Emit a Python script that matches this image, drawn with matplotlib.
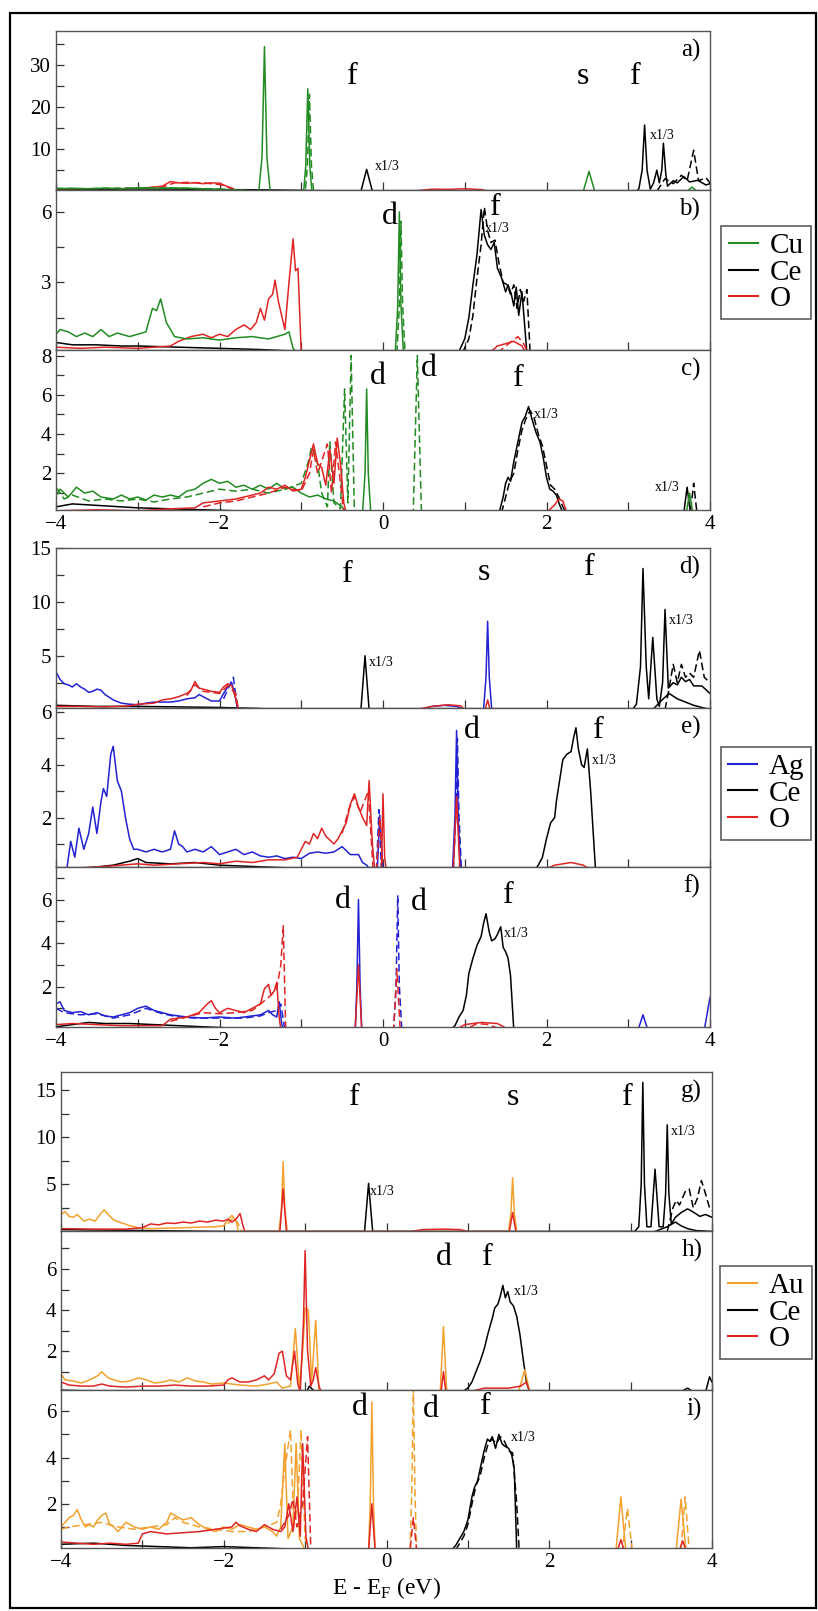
import matplotlib
matplotlib.use("Agg")
import matplotlib.pyplot as plt
from matplotlib.lines import Line2D
from matplotlib.patches import Rectangle
from matplotlib.ticker import MultipleLocator

plt.rcParams['font.family'] = 'serif'
plt.rcParams['font.serif'] = ['Liberation Serif', 'DejaVu Serif']
plt.rcParams['mathtext.fontset'] = 'custom'
plt.rcParams['mathtext.rm'] = 'Liberation Serif'

# ---- data: (E, DOS) points ----
# panel a (Cu)
a_cu = [(-4,0.6),(-3.8,0.7),(-3.6,0.6),(-3.4,0.75),(-3.2,0.6),(-3.0,0.8),(-2.8,0.7),(-2.6,0.8),(-2.4,0.75),
        (-2.2,0.55),(-2.0,0.45),(-1.85,0.35),(-1.7,0.2),(-1.52,0),(-1.48,8),(-1.45,34.3),(-1.42,8),(-1.38,0),
        (-0.97,0),(-0.945,6),(-0.92,24.3),(-0.895,6),(-0.87,0),(2.45,0),(2.52,4.7),(2.59,0),(3.72,0),(3.78,1.0),(3.84,0)]
a_cu_dash = [(-4,0.7),(-3.7,0.6),(-3.3,0.7),(-2.9,0.8),(-2.5,0.7),(-2.1,0.6),(-1.9,0.4),(-1.7,0.2),(-1.5,0),
             (-0.95,0),(-0.925,6),(-0.9,23.0),(-0.875,6),(-0.85,0)]
a_ce = [(-4,0.6),(-3.5,0.5),(-3,0.55),(-2.5,0.5),(-2,0.4),(-1.5,0.35),(-1.0,0.2),(-0.27,0),(-0.2,5.2),(-0.13,0),
        (3.1,0),(3.13,0.6),(3.17,5),(3.2,15.7),(3.23,5),(3.27,0.5),(3.31,2.0),(3.35,5.0),(3.38,2.0),(3.41,5),
        (3.43,11.4),(3.46,4),(3.48,1.2),(3.55,2.5),(3.6,2.0),(3.68,3.5),(3.75,2.2),(3.85,2.6),(3.95,1.5),(4,1.8)]
a_ce_dash = [(3.35,0),(3.45,3.0),(3.55,1.8),(3.65,3.8),(3.72,2.5),(3.8,9.7),(3.86,2.5),(3.95,3.2),(4,2.0)]
a_o = [(-4,0.6),(-3.6,0.5),(-3.2,0.6),(-2.9,0.8),(-2.7,1.2),(-2.6,2.3),(-2.5,2.0),(-2.4,1.9),(-2.3,2.0),
       (-2.2,1.8),(-2.1,2.0),(-2.0,1.9),(-1.9,1.1),(-1.8,0),(0.35,0),(0.6,0.5),(0.8,0.45),(1.0,0.6),(1.2,0.4),(1.3,0)]
a_o_dash = [(-4,0.5),(-3.5,0.6),(-3.0,0.7),(-2.7,1.0),(-2.55,2.0),(-2.4,2.1),(-2.2,2.0),(-2.0,1.6),(-1.85,0.8),(-1.78,0)]

# panel b (Cu)
b_cu = [(-4,0.8),(-3.95,1.0),(-3.85,0.9),(-3.75,0.7),(-3.65,0.85),(-3.55,0.7),(-3.45,1.0),(-3.35,0.7),(-3.25,0.85),
        (-3.1,0.7),(-3.0,0.8),(-2.9,0.9),(-2.82,1.9),(-2.77,1.8),(-2.72,2.3),(-2.65,1.3),(-2.55,0.7),(-2.4,0.6),
        (-2.2,0.65),(-2.0,0.55),(-1.8,0.65),(-1.6,0.7),(-1.4,0.6),(-1.3,0.7),(-1.2,0.8),(-1.15,0.9),(-1.1,0.2),
        (-1.05,0),(0.15,0),(0.18,2.0),(0.2,6.0),(0.22,2.0),(0.25,0)]
b_cu_dash = [(0.17,0),(0.2,2.0),(0.22,5.6),(0.24,2.0),(0.27,0)]
b_ce = [(-4,0.45),(-3.8,0.35),(-3.5,0.35),(-3.2,0.3),(-3,0.3),(-2.5,0.25),(-2,0.2),(-1.5,0.15),(-1.2,0.1),(-1.1,0),
        (0.92,0),(1.0,0.6),(1.05,1.5),(1.1,2.9),(1.15,4.2),(1.2,6.1),(1.24,5.0),(1.28,4.6),(1.32,4.4),(1.36,4.7),
        (1.4,3.6),(1.45,3.2),(1.5,2.6),(1.53,2.9),(1.57,2.5),(1.6,2.0),(1.63,2.8),(1.66,1.6),(1.7,2.6),(1.73,1.3),(1.76,0)]
b_ce_dash = [(0.97,0),(1.05,0.6),(1.1,1.6),(1.15,3.2),(1.2,4.6),(1.24,6.2),(1.28,5.2),(1.32,4.7),(1.37,4.8),
             (1.42,3.8),(1.47,3.0),(1.52,2.9),(1.56,2.5),(1.6,2.9),(1.64,1.9),(1.68,2.7),(1.72,2.2),(1.76,2.7),(1.8,0)]
b_o = [(-4,0.25),(-3.7,0.2),(-3.4,0.25),(-3,0.2),(-2.6,0.3),(-2.5,0.5),(-2.35,0.7),(-2.2,0.8),(-2.1,0.65),(-2,0.8),
       (-1.9,0.7),(-1.8,1.0),(-1.7,1.2),(-1.62,1.0),(-1.55,1.3),(-1.5,1.9),(-1.45,1.4),(-1.4,2.3),(-1.35,2.5),
       (-1.32,3.1),(-1.28,2.2),(-1.2,1.0),(-1.15,3.0),(-1.1,4.85),(-1.07,3.5),(-1.04,3.6),(-1.0,0),(1.3,0),(1.4,0.3),
       (1.5,0.4),(1.6,0.5),(1.7,0.3),(1.75,0)]
b_o_dash = [(1.4,0),(1.5,0.3),(1.65,0.7),(1.72,0.4),(1.78,0)]

# panel c (Cu)
c_cu = [(-4,0.9),(-3.95,1.2),(-3.85,0.8),(-3.75,1.3),(-3.65,1.0),(-3.55,1.1),(-3.45,0.8),(-3.3,0.7),(-3.2,0.9),
        (-3.1,0.7),(-3.0,0.8),(-2.9,0.65),(-2.8,0.9),(-2.7,0.8),(-2.6,0.9),(-2.5,0.8),(-2.4,1.1),(-2.3,1.2),
        (-2.2,1.5),(-2.1,1.7),(-2.0,1.5),(-1.9,1.6),(-1.8,1.3),(-1.7,1.4),(-1.6,1.2),(-1.5,1.4),(-1.4,1.2),
        (-1.3,1.5),(-1.2,1.2),(-1.1,1.3),(-1.0,1.0),(-0.9,0.8),(-0.8,0.9),(-0.7,0.7),(-0.6,0.6),(-0.5,0.3),
        (-0.45,0),(-0.25,0),(-0.22,2.0),(-0.2,6.3),(-0.18,2.0),(-0.15,0),(3.71,0),(3.75,1.0),(3.79,0)]
c_cu_dash = [(-4,1.3),(-3.9,0.7),(-3.8,0.9),(-3.6,0.6),(-3.4,0.7),(-3.2,0.6),(-3.0,0.7),(-2.8,0.55),(-2.6,0.7),
             (-2.4,0.8),(-2.2,1.0),(-2.0,1.2),(-1.8,1.1),(-1.6,1.2),(-1.4,1.0),(-1.2,1.2),(-1.0,1.5),(-0.92,2.5),
             (-0.87,3.4),(-0.8,2.5),(-0.75,1.0),(-0.68,0.3),(-0.65,3.6),(-0.6,0.5),(-0.52,0.2),(-0.47,6.3),
             (-0.43,0.5),(-0.39,8.0),(-0.35,0),(0.37,0),(0.42,8.0),(0.47,0)]
c_o = [(-4,0.1),(-3.5,0.15),(-3.0,0.1),(-2.6,0.2),(-2.3,0.25),(-2.2,0.5),(-2.0,0.6),(-1.8,0.7),(-1.6,0.9),(-1.5,1.0),
       (-1.4,1.3),(-1.3,1.2),(-1.2,1.4),(-1.1,1.1),(-1.0,1.2),(-0.95,1.8),(-0.88,3.0),(-0.85,3.5),(-0.8,2.5),
       (-0.75,2.3),(-0.7,1.4),(-0.65,3.2),(-0.6,1.5),(-0.56,3.8),(-0.52,2.5),(-0.48,0.5),(-0.45,0),(2.0,0),
       (2.1,0.4),(2.15,0.7),(2.2,0.6),(2.25,0)]
c_o_dash = [(-2.2,0.3),(-2.0,0.5),(-1.8,0.6),(-1.6,0.8),(-1.4,1.0),(-1.2,1.3),(-1.0,1.1),(-0.9,2.0),(-0.85,3.2),
            (-0.8,2.0),(-0.68,3.5),(-0.63,1.0),(-0.58,3.6),(-0.52,1.5),(-0.48,0)]
c_ce = [(-4,0.3),(-3.8,0.45),(-3.6,0.4),(-3.4,0.35),(-3.2,0.3),(-3.0,0.25),(-2.6,0.2),(-2.2,0.15),(-1.8,0.1),
        (-1.4,0.1),(-1.2,0),(1.42,0),(1.47,0.8),(1.5,1.5),(1.53,1.8),(1.56,1.6),(1.6,2.6),(1.65,3.6),(1.7,4.6),
        (1.74,4.9),(1.78,5.4),(1.82,4.8),(1.87,4.1),(1.92,3.6),(1.96,2.8),(2.0,1.8),(2.04,1.2),(2.08,1.1),
        (2.12,0.9),(2.16,0.4),(2.2,0),(3.68,0),(3.72,1.3),(3.76,0)]
c_ce_dash = [(1.45,0),(1.5,0.8),(1.55,1.6),(1.6,2.0),(1.65,3.2),(1.7,4.2),(1.75,4.8),(1.8,5.2),(1.85,4.8),(1.9,4.0),
             (1.95,3.4),(2.0,2.4),(2.05,1.4),(2.1,1.2),(2.15,0.8),(2.2,0.3),(2.24,0),(3.76,0),(3.8,1.5),(3.84,0)]

# panel d (Ag)
d_ag = [(-4,3.5),(-3.95,2.8),(-3.9,2.4),(-3.85,2.3),(-3.8,2.1),(-3.75,2.4),(-3.7,2.1),(-3.65,1.9),(-3.6,1.6),
        (-3.55,1.7),(-3.5,1.9),(-3.45,1.8),(-3.4,1.4),(-3.3,0.9),(-3.2,0.6),(-3.1,0.5),(-3.0,0.45),(-2.9,0.6),
        (-2.8,0.7),(-2.6,0.7),(-2.5,0.8),(-2.4,1.0),(-2.3,1.1),(-2.25,1.4),(-2.2,1.2),(-2.1,0.8),(-2.0,0.8),
        (-1.95,1.5),(-1.9,2.1),(-1.85,2.5),(-1.8,1.0),(-1.78,0),(0.45,0),(0.6,0.3),(0.75,0.4),(0.9,0.3),(1.0,0),
        (1.23,0),(1.26,3.0),(1.28,8.2),(1.3,3.0),(1.33,0)]
d_ag_dash = [(-1.95,1.0),(-1.88,2.2),(-1.83,3.0),(-1.78,0)]
d_o = [(-4,0.3),(-3.7,0.3),(-3.4,0.25),(-3.1,0.35),(-3.0,0.5),(-2.8,0.6),(-2.7,0.9),(-2.6,1.0),(-2.5,1.2),
       (-2.4,1.5),(-2.35,1.8),(-2.3,2.6),(-2.25,2.0),(-2.2,1.9),(-2.1,1.7),(-2.0,1.6),(-1.95,2.1),(-1.9,2.4),
       (-1.85,2.2),(-1.8,1.0),(-1.77,0),(0.4,0),(0.6,0.3),(0.8,0.45),(0.95,0.35),(1.0,0),(1.25,0),(1.28,0.9),(1.31,0)]
d_o_dash = [(-2.4,1.3),(-2.3,2.3),(-2.2,1.7),(-2.0,1.5),(-1.9,2.2),(-1.8,1.5),(-1.77,0)]
d_ce = [(-4,0.4),(-3.5,0.3),(-3,0.3),(-2.5,0.25),(-2,0.2),(-1.5,0.1),(-1.3,0),(-0.27,0),(-0.22,5.0),(-0.17,0),
        (3.05,0),(3.1,0.5),(3.15,4.0),(3.18,13.1),(3.22,4.0),(3.25,1.0),(3.3,6.7),(3.35,1.0),(3.38,0.3),(3.42,2.5),
        (3.45,9.3),(3.49,2.0),(3.55,2.5),(3.6,2.3),(3.65,3.0),(3.7,2.6),(3.75,2.8),(3.8,2.2),(3.9,2.2),(4,1.5)]
d_ce_low = [(3.3,0),(3.4,0.8),(3.5,1.5),(3.6,1.0),(3.7,0.7),(3.8,0.4),(3.9,0.2),(4,0)]
d_ce_dash = [(3.45,0),(3.5,2.0),(3.55,4.2),(3.6,2.5),(3.65,4.2),(3.7,3.0),(3.75,3.4),(3.8,3.0),(3.87,5.5),
             (3.93,3.0),(4,2.5)]

# panel e (Ag)
e_ag = [(-3.87,0),(-3.82,1.1),(-3.77,0.5),(-3.72,1.6),(-3.66,0.8),(-3.6,1.4),(-3.55,2.4),(-3.5,1.4),(-3.45,2.6),
        (-3.42,3.1),(-3.38,2.8),(-3.33,4.4),(-3.3,4.7),(-3.25,3.4),(-3.2,3.0),(-3.15,2.0),(-3.1,1.2),(-3.05,0.8),
        (-3.0,0.8),(-2.9,0.7),(-2.8,0.8),(-2.7,0.7),(-2.6,0.8),(-2.55,1.5),(-2.5,1.0),(-2.45,0.9),(-2.4,0.7),
        (-2.3,0.8),(-2.2,0.7),(-2.1,0.9),(-2.0,0.6),(-1.9,0.7),(-1.8,0.8),(-1.7,0.6),(-1.6,0.7),(-1.5,0.55),
        (-1.4,0.5),(-1.3,0.55),(-1.2,0.45),(-1.1,0.5),(-1.0,0.45),(-0.9,0.65),(-0.8,0.7),(-0.7,0.65),(-0.6,0.7),
        (-0.5,0.9),(-0.45,0.75),(-0.4,0.6),(-0.3,0.6),(-0.25,0.3),(-0.2,0.2),(-0.15,0),(-0.07,0),(-0.04,2.1),
        (0.0,0),(0.85,0),(0.88,2.0),(0.9,5.3),(0.92,2.0),(0.95,0)]
e_ag_dash = [(-0.08,0),(-0.05,2.3),(-0.02,0),(0.86,0),(0.89,2.0),(0.91,5.0),(0.93,2.0),(0.96,0)]
e_o = [(-4,0.1),(-3.7,0.1),(-3.4,0.15),(-3.2,0.2),(-3.0,0.25),(-2.8,0.2),(-2.5,0.25),(-2.2,0.3),(-2.0,0.25),
       (-1.8,0.35),(-1.6,0.3),(-1.4,0.4),(-1.2,0.4),(-1.05,0.5),(-1.0,0.8),(-0.95,1.1),(-0.9,1.0),(-0.85,1.4),
       (-0.8,1.2),(-0.75,1.6),(-0.7,1.3),(-0.6,1.0),(-0.55,1.2),(-0.45,1.8),(-0.4,2.5),(-0.35,2.9),(-0.3,2.4),
       (-0.25,2.0),(-0.2,1.7),(-0.17,3.4),(-0.13,1.0),(-0.1,0),(-0.02,0),(0.0,2.9),(0.02,0.5),(0.04,0),
       (0.86,0),(0.9,2.8),(0.94,0),(1.95,0),(2.1,0.2),(2.3,0.3),(2.45,0.2),(2.55,0)]
e_o_dash = [(-0.5,1.4),(-0.42,2.3),(-0.35,2.8),(-0.28,2.2),(-0.18,3.0),(-0.12,0),(-0.08,0),(-0.04,2.0),(0.0,0)]
e_ce = [(-4,0.05),(-3.6,0.1),(-3.3,0.2),(-3.1,0.35),(-3.0,0.45),(-2.9,0.3),(-2.6,0.25),(-2.3,0.3),(-2.0,0.2),
        (-1.6,0.15),(-1.2,0.1),(-0.8,0.05),(-0.6,0),(1.85,0),(1.9,0.2),(1.95,0.5),(2.0,1.2),(2.05,1.8),(2.1,2.0),
        (2.12,2.6),(2.17,3.6),(2.2,4.2),(2.25,4.4),(2.3,4.5),(2.33,5.0),(2.36,5.4),(2.39,4.6),(2.43,4.0),
        (2.46,3.9),(2.5,4.6),(2.54,3.0),(2.58,1.0),(2.6,0)]

# panel f (Ag)
f_ag = [(-4,1.2),(-3.95,1.3),(-3.9,0.9),(-3.8,0.8),(-3.7,0.85),(-3.6,0.7),(-3.5,0.8),(-3.4,0.65),(-3.3,0.6),
        (-3.2,0.7),(-3.1,0.8),(-3.0,1.0),(-2.9,1.1),(-2.8,0.9),(-2.7,0.8),(-2.6,0.7),(-2.5,0.65),(-2.4,0.6),
        (-2.2,0.55),(-2.0,0.6),(-1.8,0.55),(-1.6,0.65),(-1.5,0.7),(-1.45,0.8),(-1.4,0.9),(-1.35,0.7),(-1.3,0.6),
        (-1.27,1.3),(-1.24,0.3),(-1.22,0),(-0.34,0),(-0.32,2.0),(-0.3,6.0),(-0.28,2.0),(-0.26,0),(3.12,0),
        (3.18,0.7),(3.24,0),(3.93,0),(4.0,1.5)]
f_ag_dash = [(-4,1.0),(-3.9,0.8),(-3.7,0.7),(-3.5,0.75),(-3.3,0.55),(-3.1,0.7),(-2.9,1.0),(-2.7,0.75),(-2.5,0.6),
             (-2.3,0.55),(-2.0,0.55),(-1.7,0.55),(-1.5,0.65),(-1.4,0.8),(-1.3,0.9),(-1.25,1.2),(-1.2,0),(0.13,0),
             (0.16,2.0),(0.18,6.2),(0.2,2.0),(0.23,0)]
f_o = [(-4,0.25),(-3.8,0.3),(-3.5,0.25),(-3.2,0.2),(-2.9,0.2),(-2.7,0.2),(-2.6,0.5),(-2.4,0.6),(-2.25,0.8),
       (-2.15,1.2),(-2.1,1.35),(-2.05,1.0),(-2.0,0.8),(-1.9,1.0),(-1.8,0.9),(-1.7,0.8),(-1.6,1.0),(-1.5,1.2),
       (-1.45,1.9),(-1.4,2.1),(-1.37,1.6),(-1.33,1.8),(-1.3,2.2),(-1.27,0.6),(-1.25,0),(-0.34,0),(-0.3,3.0),
       (-0.26,0),(0.88,0),(1.0,0.25),(1.2,0.35),(1.4,0.3),(1.55,0)]
f_o_dash = [(-2.6,0.4),(-2.4,0.6),(-2.2,0.8),(-2.0,0.75),(-1.8,0.8),(-1.6,0.9),(-1.4,1.5),(-1.3,1.9),(-1.25,3.0),
            (-1.22,4.8),(-1.19,0),(0.13,0),(0.17,2.8),(0.21,0),(1.0,0),(1.15,0.3),(1.3,0.25),(1.45,0)]
f_ce = [(-4,0.15),(-3.8,0.25),(-3.6,0.35),(-3.4,0.3),(-3.1,0.3),(-2.8,0.25),(-2.5,0.2),(-2.2,0.15),(-1.9,0.1),
        (-1.5,0.05),(-1.3,0),(0.82,0),(0.88,0.2),(0.93,0.6),(0.98,0.9),(1.02,1.6),(1.05,2.6),(1.1,3.3),(1.15,3.9),
        (1.2,4.3),(1.23,4.9),(1.26,5.35),(1.3,4.5),(1.33,4.1),(1.37,4.2),(1.4,4.4),(1.44,4.75),(1.47,3.8),
        (1.5,3.6),(1.53,3.3),(1.56,2.5),(1.6,0)]

# panel g (Au)
g_au = [(-4,1.8),(-3.95,2.1),(-3.9,1.6),(-3.85,1.5),(-3.8,1.8),(-3.72,1.1),(-3.65,1.3),(-3.58,1.1),(-3.52,1.8),
        (-3.47,2.3),(-3.42,1.8),(-3.35,1.2),(-3.25,0.9),(-3.15,0.6),(-3.05,0.4),(-2.9,0.3),(-2.7,0.35),(-2.5,0.4),
        (-2.3,0.45),(-2.1,0.5),(-2.0,0.6),(-1.95,1.2),(-1.9,1.7),(-1.85,1.2),(-1.82,0),(-1.32,0),(-1.29,2.5),
        (-1.27,7.4),(-1.25,2.5),(-1.22,0),(1.5,0),(1.53,2.0),(1.55,5.7),(1.57,2.0),(1.6,0)]
g_au_dash = [(-1.95,0.8),(-1.88,1.5),(-1.82,0.8),(-1.78,0)]
g_o = [(-4,0.3),(-3.6,0.25),(-3.2,0.25),(-3.0,0.4),(-2.9,0.8),(-2.8,0.7),(-2.7,0.9),(-2.6,0.85),(-2.5,1.0),
       (-2.4,0.9),(-2.3,1.1),(-2.2,1.0),(-2.1,1.2),(-2.0,1.1),(-1.95,1.3),(-1.9,1.0),(-1.85,1.3),(-1.8,1.9),
       (-1.76,0.5),(-1.74,0),(-1.31,0),(-1.27,4.5),(-1.23,0),(0.3,0),(0.45,0.2),(0.7,0.25),(0.9,0.2),(1.0,0),
       (1.51,0),(1.55,2.0),(1.59,0)]
g_ce = [(-4,0.2),(-3.5,0.15),(-3,0.1),(-2.5,0.05),(-2,0),(-0.27,0),(-0.22,5.1),(-0.17,0),(3.05,0),(3.1,0.5),
        (3.13,5.0),(3.15,15.8),(3.17,5.0),(3.2,0.5),(3.25,0.5),(3.3,6.6),(3.35,0.5),(3.4,0.5),(3.43,4.0),
        (3.45,11.3),(3.47,4.0),(3.5,0.8),(3.55,1.5),(3.62,2.0),(3.7,2.4),(3.78,2.0),(3.85,1.6),(3.92,1.8),(4,1.5)]
g_ce_low = [(3.3,0),(3.45,0.5),(3.55,1.0),(3.62,0.6),(3.7,0.3),(3.8,0.1),(4,0)]
g_ce_dash = [(3.45,0),(3.52,2.5),(3.56,3.3),(3.6,2.8),(3.67,4.2),(3.72,4.5),(3.77,2.5),(3.82,3.5),(3.87,5.4),
             (3.92,4.0),(3.97,2.5),(4,2.2)]

# panel h (Au)
h_au = [(-4,0.9),(-3.95,0.6),(-3.85,0.55),(-3.75,0.45),(-3.65,0.6),(-3.55,0.8),(-3.5,1.0),(-3.42,0.7),(-3.35,0.6),
        (-3.25,0.5),(-3.15,0.55),(-3.05,0.7),(-2.95,0.6),(-2.85,0.45),(-2.75,0.5),(-2.65,0.6),(-2.55,0.5),
        (-2.45,0.7),(-2.35,0.55),(-2.25,0.5),(-2.15,0.4),(-2.0,0.45),(-1.8,0.35),(-1.6,0.3),(-1.45,0.4),
        (-1.35,0.5),(-1.28,0.2),(-1.18,0.3),(-1.12,3.1),(-1.07,0.2),(-1.03,2.0),(-1.0,4.1),(-0.96,4.0),
        (-0.92,0.5),(-0.87,3.5),(-0.83,0),(0.66,0),(0.7,3.2),(0.74,0),(1.62,0),(1.7,1.1),(1.76,0)]
h_o = [(-4,0.5),(-3.9,0.35),(-3.75,0.3),(-3.6,0.3),(-3.5,0.4),(-3.4,0.3),(-3.2,0.25),(-3.0,0.3),(-2.8,0.3),
       (-2.6,0.35),(-2.4,0.3),(-2.2,0.3),(-2.0,0.35),(-1.95,0.6),(-1.9,0.7),(-1.8,0.5),(-1.7,0.5),(-1.6,0.6),
       (-1.5,0.8),(-1.45,0.6),(-1.38,0.9),(-1.32,1.9),(-1.28,2.0),(-1.23,0.8),(-1.18,0.6),(-1.13,2.0),(-1.09,0.4),
       (-1.06,0),(-1.02,3.5),(-1.0,6.9),(-0.97,2.0),(-0.93,0.3),(-0.9,0.6),(-0.87,1.2),(-0.83,0.3),(-0.8,0),
       (0.67,0),(0.7,1.0),(0.73,0),(1.0,0),(1.2,0.2),(1.5,0.2),(1.65,0.3),(1.72,0.5),(1.76,0)]
h_ce = [(-4,0.1),(-3.5,0.05),(-3,0),(-0.98,0),(-0.95,0.3),(-0.9,0.1),(-0.85,0),(0.92,0),(1.0,0.2),(1.05,0.5),
        (1.1,1.0),(1.15,1.5),(1.2,2.1),(1.25,2.9),(1.3,3.6),(1.33,4.1),(1.37,4.3),(1.4,4.7),(1.43,5.2),
        (1.46,4.6),(1.49,4.9),(1.52,4.4),(1.56,4.2),(1.6,3.7),(1.64,2.8),(1.68,1.6),(1.72,0.5),(1.76,0),
        (3.6,0),(3.7,0.2),(3.78,0),(3.92,0),(3.97,0.75),(4,0.5)]

# panel i (Au)
i_au = [(-4,1.0),(-3.95,1.2),(-3.9,1.4),(-3.85,1.5),(-3.8,1.75),(-3.75,1.3),(-3.7,1.0),(-3.65,1.1),(-3.6,1.0),
        (-3.55,1.3),(-3.5,1.5),(-3.45,1.6),(-3.4,1.1),(-3.35,1.0),(-3.3,0.8),(-3.2,1.2),(-3.1,1.0),(-3.0,0.9),
        (-2.9,1.0),(-2.8,0.9),(-2.7,1.2),(-2.65,1.6),(-2.6,1.5),(-2.5,1.3),(-2.4,1.4),(-2.3,1.1),(-2.2,0.9),
        (-2.1,0.8),(-2.0,1.0),(-1.9,0.9),(-1.8,1.1),(-1.7,1.0),(-1.6,0.9),(-1.5,1.0),(-1.4,0.8),(-1.35,0.6),
        (-1.3,1.0),(-1.25,4.6),(-1.21,0.5),(-1.15,1.0),(-1.11,4.6),(-1.07,0.5),(-1.0,0),(-0.22,0),(-0.2,2.0),
        (-0.18,6.4),(-0.16,2.0),(-0.14,0),(2.82,0),(2.88,2.3),(2.94,0),(3.56,0),(3.62,2.2),(3.68,0)]
i_au_dash = [(-4,0.9),(-3.9,1.0),(-3.7,1.1),(-3.5,1.2),(-3.3,1.0),(-3.1,0.9),(-2.9,1.0),(-2.7,1.1),(-2.6,1.4),
             (-2.5,1.2),(-2.3,1.0),(-2.1,0.9),(-1.9,0.8),(-1.7,0.8),(-1.5,1.0),(-1.35,1.2),(-1.3,2.0),(-1.25,3.5),
             (-1.18,5.2),(-1.14,1.0),(-1.09,2.0),(-1.05,5.2),(-1.0,0.5),(-0.95,0),(0.29,0),(0.31,2.5),(0.33,7.0),
             (0.35,2.5),(0.37,0),(2.9,0),(2.96,1.8),(3.02,0),(3.62,0),(3.67,2.3),(3.72,0)]
i_o = [(-4,0.35),(-3.8,0.3),(-3.6,0.25),(-3.4,0.3),(-3.2,0.25),(-3.05,0.3),(-3.0,0.7),(-2.9,0.8),(-2.7,0.7),
       (-2.5,0.75),(-2.3,0.8),(-2.1,0.9),(-1.9,1.0),(-1.85,1.2),(-1.8,1.05),(-1.7,0.9),(-1.6,0.8),(-1.5,1.1),
       (-1.4,0.9),(-1.3,0.8),(-1.25,1.0),(-1.2,2.0),(-1.15,0.8),(-1.1,2.3),(-1.06,0.6),(-1.03,4.6),(-0.99,0.6),
       (-0.96,0),(-0.22,0),(-0.18,2.0),(-0.14,0),(2.84,0),(2.88,0.45),(2.92,0),(3.6,0),(3.64,0.4),(3.68,0)]
i_o_dash = [(-1.3,0.9),(-1.2,1.5),(-1.15,2.2),(-1.1,1.0),(-1.03,2.0),(-0.97,4.9),(-0.93,0),(0.29,0),(0.33,1.4),(0.37,0)]
i_ce = [(-4,0.25),(-3.6,0.3),(-3.2,0.2),(-2.8,0.15),(-2.4,0.1),(-2.0,0.15),(-1.6,0.1),(-1.2,0.05),(-1.0,0),
        (0.8,0),(0.85,0.2),(0.9,0.5),(0.95,0.8),(1.0,1.3),(1.05,2.3),(1.08,2.7),(1.12,3.0),(1.15,3.5),(1.2,4.3),
        (1.24,4.8),(1.27,4.7),(1.3,4.9),(1.34,4.4),(1.38,5.0),(1.42,4.6),(1.45,4.5),(1.5,4.4),(1.54,4.1),
        (1.57,3.5),(1.6,0)]
i_ce_dash = [(0.85,0),(0.9,0.3),(0.95,0.6),(1.0,1.1),(1.05,2.0),(1.1,2.8),(1.15,3.2),(1.2,4.0),(1.25,4.6),
             (1.3,4.8),(1.35,4.6),(1.4,4.9),(1.45,4.7),(1.5,4.3),(1.55,4.2),(1.6,2.0),(1.63,0)]

# axis limits / ticks per panel
y_limits = {'a': (0.3, 38), 'b': (0.13, 6.93), 'c': (0.14, 8.28), 'd': (0.15, 15.0), 'e': (0.13, 6.15),
            'f': (0.14, 7.5), 'g': (0.05, 16.9), 'h': (0.11, 7.85), 'i': (0.09, 6.92)}
y_major = {'a': 10, 'b': 3, 'c': 2, 'd': 5, 'e': 2, 'f': 2, 'g': 5, 'h': 2, 'i': 2}

# orbital letters: (x, y, text)
letters = {
    'a': [(-0.38, 25.5, 'f'), (2.44, 25.5, 's'), (3.09, 25.5, 'f')],
    'b': [(0.08, 5.5, 'd'), (1.37, 5.85, 'f')],
    'c': [(-0.06, 6.55, 'd'), (0.56, 6.95, 'd'), (1.65, 6.45, 'f')],
    'd': [(-0.43, 11.8, 'f'), (1.24, 12.0, 's'), (2.52, 12.5, 'f')],
    'e': [(1.09, 5.0, 'd'), (2.63, 5.0, 'f')],
    'f': [(-0.49, 5.6, 'd'), (0.44, 5.5, 'd'), (1.53, 5.85, 'f')],
    'g': [(-0.39, 13.4, 'f'), (1.55, 13.4, 's'), (2.96, 13.4, 'f')],
    'h': [(0.71, 6.2, 'd'), (1.24, 6.2, 'f')],
    'i': [(-0.33, 5.85, 'd'), (0.54, 5.75, 'd'), (1.21, 5.9, 'f')],
}
scale_notes = {
    'a': [(-0.1, 5.8), (3.27, 13.3)], 'b': [(1.25, 5.3)], 'c': [(1.85, 5.0), (3.33, 1.3)],
    'd': [(-0.17, 4.4), (3.5, 8.3)], 'e': [(2.56, 4.15)], 'f': [(1.48, 4.45)],
    'g': [(-0.2, 4.2), (3.5, 10.6)], 'h': [(1.57, 4.9)], 'i': [(1.53, 4.85)],
}

green, blue, orange, red = '#228b22', '#2222d4', '#f2a12e', '#e02424'
dash = (0, (5, 2.5))

# curves per panel: (data, colour, dashed)
panels = {
    'a': [(a_o, red, 0), (a_o_dash, red, 1), (a_ce, 'k', 0), (a_ce_dash, 'k', 1), (a_cu, green, 0), (a_cu_dash, green, 1)],
    'b': [(b_ce, 'k', 0), (b_ce_dash, 'k', 1), (b_o, red, 0), (b_o_dash, red, 1), (b_cu, green, 0), (b_cu_dash, green, 1)],
    'c': [(c_ce, 'k', 0), (c_ce_dash, 'k', 1), (c_cu, green, 0), (c_cu_dash, green, 1), (c_o, red, 0), (c_o_dash, red, 1)],
    'd': [(d_ce, 'k', 0), (d_ce_low, 'k', 0), (d_ce_dash, 'k', 1), (d_ag, blue, 0), (d_ag_dash, blue, 1),
          (d_o, red, 0), (d_o_dash, red, 1)],
    'e': [(e_ce, 'k', 0), (e_ag, blue, 0), (e_ag_dash, blue, 1), (e_o, red, 0), (e_o_dash, red, 1)],
    'f': [(f_ce, 'k', 0), (f_ag, blue, 0), (f_ag_dash, blue, 1), (f_o, red, 0), (f_o_dash, red, 1)],
    'g': [(g_ce, 'k', 0), (g_ce_low, 'k', 0), (g_ce_dash, 'k', 1), (g_au, orange, 0), (g_au_dash, orange, 1), (g_o, red, 0)],
    'h': [(h_ce, 'k', 0), (h_au, orange, 0), (h_o, red, 0)],
    'i': [(i_ce, 'k', 0), (i_ce_dash, 'k', 1), (i_au, orange, 0), (i_au_dash, orange, 1), (i_o, red, 0), (i_o_dash, red, 1)],
}

W, H = 818, 1611
fig = plt.figure(figsize=(W / 100, H / 100), dpi=100)

# pixel boxes: (left, right, top, bottom)
boxes = {'a': (56, 710, 31, 190), 'b': (56, 710, 190, 350), 'c': (56, 710, 350, 510),
         'd': (56, 710, 548, 708), 'e': (56, 710, 708, 867), 'f': (56, 710, 867, 1027),
         'g': (61, 712, 1072, 1231), 'h': (61, 712, 1231, 1390), 'i': (61, 712, 1390, 1548)}
bottom_panels = ['c', 'f', 'i']

for key, (l, r, t, b) in boxes.items():
    ax = fig.add_axes([l / W, 1 - b / H, (r - l) / W, (b - t) / H])
    for data, col, dashed in panels[key]:
        xs, ys = zip(*data)
        ax.plot(xs, ys, color=col, lw=1.1, ls=dash if dashed else '-')
    ax.set_xlim(-4, 4)
    ax.set_ylim(*y_limits[key])
    ax.xaxis.set_major_locator(MultipleLocator(2))
    ax.xaxis.set_minor_locator(MultipleLocator(1))
    ax.yaxis.set_major_locator(MultipleLocator(y_major[key]))
    ax.yaxis.set_minor_locator(MultipleLocator(y_major[key] / 2))
    ax.tick_params(which='both', direction='in', length=6, width=0.9, color='#333333',
                   top=False, right=False, labelsize=15)
    if key not in bottom_panels:
        ax.tick_params(axis='x', labelbottom=False)
    for s in ax.spines.values():
        s.set_color('#555555')
        s.set_linewidth(1.0)
    for x, y, s in letters[key]:
        ax.text(x, y, s, fontsize=23, ha='center', va='baseline')
    for x, y in scale_notes[key]:
        ax.text(x, y, 'x1/3', fontsize=10, ha='left', va='center')
    ax.text(0.985, 0.88, key + ')', transform=ax.transAxes, fontsize=18, ha='right', va='center')
    if key == 'i':
        ax.set_xlabel('E - E$_\\mathrm{F}$ (eV)', fontsize=17, labelpad=2)

# legends
for metal, col, cy in [('Cu', green, 272.5), ('Ag', blue, 793.5), ('Au', orange, 1312.5)]:
    handles = [Line2D([], [], color=col, lw=1.5), Line2D([], [], color='k', lw=1.5),
               Line2D([], [], color=red, lw=1.5)]
    leg = fig.legend(handles, [metal, 'Ce', 'O'], loc='center', bbox_to_anchor=(766 / W, 1 - cy / H),
                     fontsize=21, frameon=True, fancybox=False, handlelength=1.0, handletextpad=0.4,
                     labelspacing=0.0, borderpad=0.25)
    leg.get_frame().set_edgecolor('#333333')
    leg.get_frame().set_linewidth(1.2)

# outer frame
fig.patches.append(Rectangle((10 / W, 1 - 1608 / H), 806 / W, 1595 / H, transform=fig.transFigure,
                             fill=False, edgecolor='k', lw=1.6))

fig.savefig('out.png', dpi=100)
